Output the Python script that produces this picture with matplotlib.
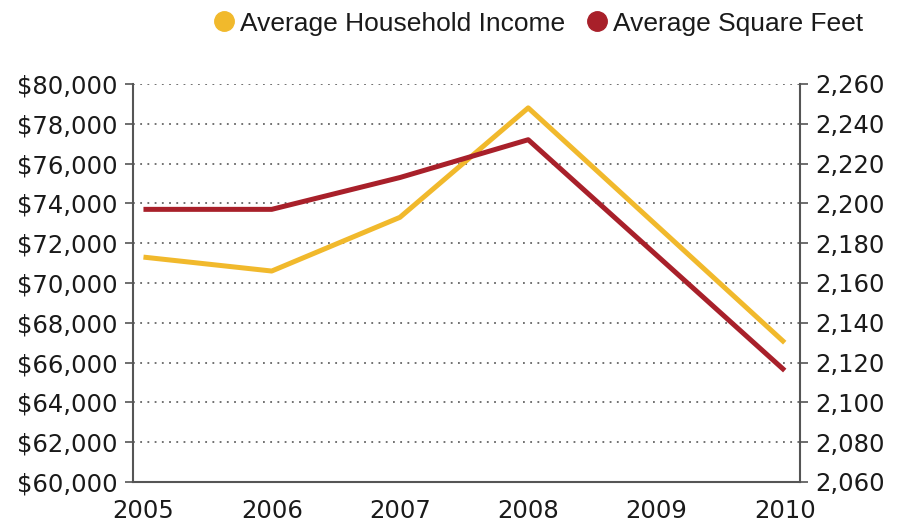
import matplotlib
matplotlib.use('Agg')
import matplotlib.pyplot as plt
from matplotlib.lines import Line2D
from matplotlib.ticker import FuncFormatter
from matplotlib import font_manager

########################################################################################################################
# DATA
years = [2005, 2006, 2007, 2008, 2009, 2010]
income = [71300, 70600, 73300, 78800, 72900, 67000]
sq_feet = [2197, 2197, 2213, 2232, 2174, 2116]

income_ticks = list(range(60000, 80001, 2000))
sqft_ticks = list(range(2060, 2261, 20))

YELLOW = '#F1B92C'
RED = '#A8202A'

plt.rcParams['font.family'] = ['DejaVu Sans']
names = set(f.name for f in font_manager.fontManager.ttflist)
legend_font = 'Liberation Sans Narrow' if 'Liberation Sans Narrow' in names else 'Liberation Sans'

########################################################################################################################
# PLOT
fig = plt.figure(figsize=(9, 5.25), dpi=100)
ax1 = fig.add_axes([0.148, 0.082, 0.741, 0.758])
ax2 = ax1.twinx()

for y in income_ticks[1:]:
    ax1.axhline(y, color='#666666', linestyle=(0, (1, 3)), linewidth=1.3, zorder=0)

ax1.plot(years, income, color=YELLOW, linewidth=3.6, solid_capstyle='butt', zorder=3)
ax2.plot(years, sq_feet, color=RED, linewidth=3.6, solid_capstyle='butt', zorder=3)

ax1.set_xlim(2004.92, 2010.12)
ax1.set_ylim(60000, 80000)
ax2.set_ylim(2060, 2260)
ax1.set_yticks(income_ticks)
ax2.set_yticks(sqft_ticks)
ax1.set_xticks(years)
ax1.yaxis.set_major_formatter(FuncFormatter(lambda v, p: '${:,.0f}'.format(v)))
ax2.yaxis.set_major_formatter(FuncFormatter(lambda v, p: '{:,.0f}'.format(v)))

for ax in (ax1, ax2):
    ax.spines['top'].set_visible(False)
    for s in ax.spines.values():
        s.set_color('#555555')
        s.set_linewidth(1.5)
    ax.tick_params(axis='y', length=6, width=1.2, color='#555555', labelsize=17.5, labelcolor='#1a1a1a', pad=5)
ax1.spines['right'].set_visible(False)
ax2.spines['left'].set_visible(False)
ax2.spines['bottom'].set_visible(False)
ax1.tick_params(axis='x', length=0, labelsize=17.5, labelcolor='#1a1a1a', pad=12)

handles = [Line2D([], [], marker='o', linestyle='', markersize=14, color=YELLOW),
           Line2D([], [], marker='o', linestyle='', markersize=14, color=RED)]
fig.legend(handles, ['Average Household Income', 'Average Square Feet'],
           loc='center right', bbox_to_anchor=(0.985, 0.955), ncol=2, frameon=False,
           prop={'family': legend_font, 'size': 19}, handletextpad=0.1, columnspacing=0.7, handlelength=1.0,
           labelcolor='#1a1a1a')

plt.savefig('out.png', dpi=100)
plt.close()
